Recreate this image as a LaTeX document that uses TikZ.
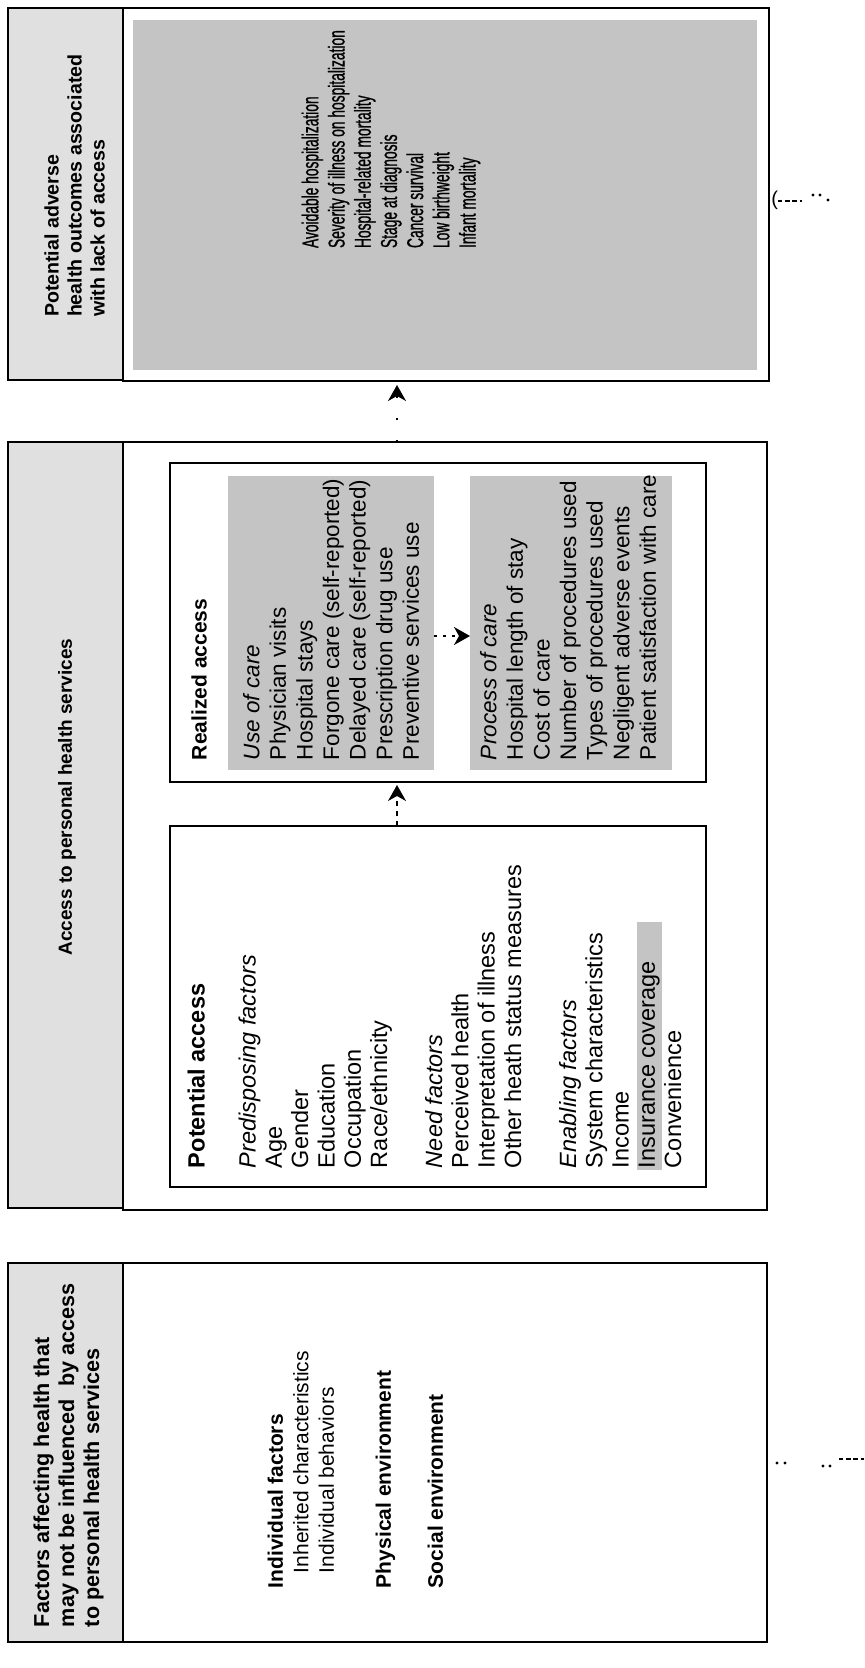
\documentclass[tikz,border=0pt]{standalone}
\usepackage{fontspec}
\setmainfont{Liberation Sans}
\newfontfamily\narrowfont[FakeStretch=0.6,FakeBold=0.8]{Liberation Sans}
\usetikzlibrary{arrows.meta,calc}
\begin{document}
\begin{tikzpicture}[x=0.5pt,y=-0.5pt,
  hdr/.style={draw=black,line width=0.8pt,fill=black!12,inner sep=0,outer sep=0,anchor=north west},
  mainbox/.style={draw=black,line width=1pt,inner sep=0,outer sep=0,anchor=north west},
  subbox/.style={draw=black,line width=0.7pt,inner sep=0,outer sep=0,anchor=north west},
  shade/.style={fill=black!23,inner sep=0,outer sep=0,anchor=north west},
  txt/.style={rotate=90,anchor=north west,inner sep=0,outer sep=0,align=left},
  ltxt/.style={rotate=90,anchor=west,inner sep=0,outer sep=0},
  arr/.style={line width=0.8pt,dash pattern=on 2.5pt off 2.5pt,-{Stealth[length=8pt,width=9pt,inset=2.5pt]}},
  dot/.style={fill=black,circle,inner sep=0,minimum size=1.6pt},
  frag/.style={line width=1pt,dash pattern=on 2.2pt off 1.4pt}
]
\useasboundingbox[fill=white] (0,0) rectangle (864,1668);

% ---------- top section ----------
\node[hdr,minimum width=57.5pt,minimum height=186pt] (toph) at (8,8) {};
\node[mainbox,minimum width=323pt,minimum height=186.5pt] (topmain) at (123,8) {};
\node[shade,minimum width=312pt,minimum height=175pt] (topsh) at (133,20) {};
\node[txt,font=\bfseries\fontsize{9.8}{11.5}\selectfont] (tophtxt) at (42.4,317)
  {\strut Potential adverse\\health outcomes associated\\with lack of access};
\node[txt,font=\narrowfont\fontsize{11.5}{13.1}\selectfont] (outc) at (300,248)
  {\strut Avoidable hospitalization\\Severity of illness on hospitalization\\Hospital-related mortality\\Stage at diagnosis\\Cancer survival\\Low birthweight\\Infant mortality};

% ---------- middle section ----------
\node[hdr,minimum width=57.5pt,minimum height=383pt] (midh) at (8,442) {};
\node[mainbox,minimum width=322pt,minimum height=384pt] (midmain) at (123,442) {};
\node[rotate=90,inner sep=0,font=\bfseries\fontsize{9.5}{11}\selectfont] (midhtxt) at (67,797)
  {Access to personal health services};

\node[subbox,minimum width=268pt,minimum height=159.5pt] (realbox) at (170,463) {};
\node[shade,minimum width=103pt,minimum height=147pt] (usesh) at (228,476) {};
\node[shade,minimum width=101pt,minimum height=147pt] (procsh) at (470,476) {};
\node[ltxt,font=\bfseries\fontsize{10.5}{12}\selectfont] (realt) at (199,760) {Realized access};
\node[txt,font=\fontsize{11.25}{13.3}\selectfont] (usel) at (240.7,760)
  {\strut\textit{Use of care}\\Physician visits\\Hospital stays\\Forgone care (self-reported)\\Delayed care (self-reported)\\Prescription drug use\\Preventive services use};
\node[txt,font=\fontsize{11.25}{13.3}\selectfont] (procl) at (477.7,760)
  {\strut\textit{Process of care}\\Hospital length of stay\\Cost of care\\Number of procedures used\\Types of procedures used\\Negligent adverse events\\Patient satisfaction with care};

\node[subbox,minimum width=268pt,minimum height=180.5pt] (potbox) at (170,826) {};
\node[shade,minimum width=12.5pt,minimum height=124pt] (inssh) at (637,922) {};
\node[txt,font=\fontsize{11.75}{13.15}\selectfont] (potl) at (186.2,1168)
  {\strut\textbf{Potential access}\\[12.35pt]
   \textit{Predisposing factors}\\Age\\Gender\\Education\\Occupation\\Race/ethnicity\\[14.35pt]
   \textit{Need factors}\\Perceived health\\Interpretation of illness\\Other heath status measures\\[14.35pt]
   \textit{Enabling factors}\\System characteristics\\Income\\Insurance coverage\\Convenience};

% ---------- bottom section ----------
\node[hdr,minimum width=57.5pt,minimum height=189.5pt] (both) at (8,1263) {};
\node[mainbox,minimum width=322pt,minimum height=189.5pt] (botmain) at (123,1263) {};
\node[txt,font=\bfseries\fontsize{10.8}{12.5}\selectfont] (bothtxt) at (31.5,1627)
  {\strut Factors affecting health that\\may not be influenced\ \ by access\\to personal health services};
\node[txt,font=\fontsize{10.5}{12.75}\selectfont] (botl) at (265,1588)
  {\strut\textbf{Individual factors}\\\hspace*{7.5pt}Inherited characteristics\\\hspace*{7.5pt}Individual behaviors\\[15.75pt]
   \textbf{Physical environment}\\[13.25pt]\textbf{Social environment}};

% ---------- connectors ----------
\coordinate (ax) at (397,0);
\coordinate (ay) at (0,636);
\draw[arr,shorten >=1.5pt] (ax |- potbox.north) -- (ax |- realbox.south);
\draw[arr,dash pattern=on 1pt off 10pt,shorten >=2pt] (ax |- midmain.north) -- (ax |- topmain.south);
\draw[arr,dash pattern=on 1.5pt off 3pt] (usesh.east |- ay) -- (procsh.west |- ay);

% ---------- fragments at the right edge ----------
\node[anchor=west,inner sep=0,font=\fontsize{10}{12}\selectfont] (paren) at (771,200) {(};
\coordinate (f1a) at (778,201);
\coordinate (f1b) at (802,201);
\draw[frag] (f1a) -- (f1b);
\node[dot] (d1) at (813,195) {};
\node[dot] (d2) at (820,195) {};
\node[dot] (d3) at (828,200) {};
\node[dot] (d4) at (777,1463) {};
\node[dot] (d5) at (785,1463) {};
\node[dot] (d6) at (823,1466) {};
\node[dot] (d7) at (830,1466) {};
\coordinate (f2a) at (839,1459);
\coordinate (f2b) at (864,1459);
\draw[frag] (f2a) -- (f2b);
\end{tikzpicture}
\end{document}
